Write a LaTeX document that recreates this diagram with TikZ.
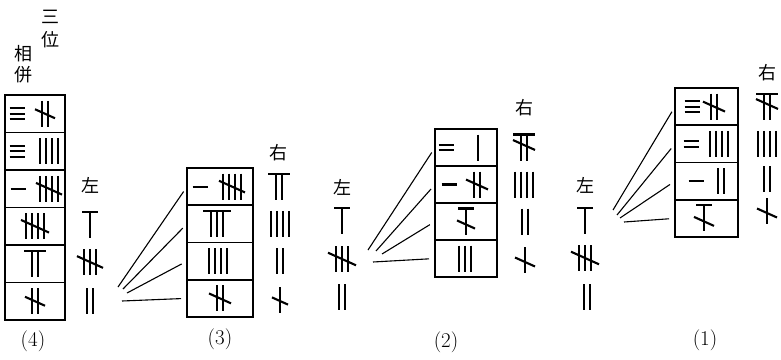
\documentclass[tikz,border=0pt]{standalone}
\usepackage{fontspec}
\newfontfamily\cjk{Noto Sans CJK JP}
\usetikzlibrary{positioning,calc}

\newcommand{\rv}[3]{\foreach \k in {1,...,#3}{\draw[rod] (#1+6*\k-3*#3-3,#2-13) -- ++(0,26);}}
\newcommand{\rh}[3]{\foreach \k in {1,...,#3}{\draw[rod] (#1-7.5,#2+5.5*\k-2.75*#3-2.75) -- ++(15,0);}}
\newcommand{\rt}[3]{\draw[rod] (#1-3*#3-5,#2-13) -- (#1+3*#3+5,#2-13);
  \foreach \k in {1,...,#3}{\draw[rod] (#1+6*\k-3*#3-3,#2-13) -- ++(0,26);}}
\newcommand{\rs}[3]{\draw[rod] (#1-#3,#2-0.45*#3) -- (#1+#3,#2+0.45*#3);}

\begin{document}
\begin{tikzpicture}[x=1pt, y=-1pt,
  rod/.style={line width=2.1pt},
  cell/.style={draw, line width=1.7pt, inner sep=0pt, outer sep=0pt},
  fan/.style={line width=1.1pt, shorten >=6pt},
  kanji/.style={font=\cjk\fontsize{18}{18}\selectfont, inner sep=0pt},
  tag/.style={font=\fontsize{21}{21}\selectfont, inner sep=0pt}]
\useasboundingbox (0,0) rectangle (781,359);

\node[kanji] (san) at (50,17) {三};
\node[kanji] (wei) at (50,40) {位};
\node[kanji] (xiang) at (23,54) {相};
\node[kanji] (bing) at (23,75) {併};

\node[cell, minimum width=60pt, minimum height=37.5pt] (d1) at (35,113.75) {};
\node[cell, minimum width=60pt, minimum height=37.5pt, below=0pt of d1] (d2) {};
\node[cell, minimum width=60pt, minimum height=37.5pt, below=0pt of d2] (d3) {};
\node[cell, minimum width=60pt, minimum height=37.5pt, below=0pt of d3] (d4) {};
\node[cell, minimum width=60pt, minimum height=37.5pt, below=0pt of d4] (d5) {};
\node[cell, minimum width=60pt, minimum height=37.5pt, below=0pt of d5] (d6) {};
\rh{17}{113.75}{3} \rv{45}{113.75}{2} \rs{45}{113.75}{10}
\rh{17}{151.25}{3} \rv{49}{151.25}{4}
\rh{18}{188.75}{1} \rv{49}{188.75}{4} \rs{49}{188.75}{13}
\rv{35}{226.25}{4} \rs{35}{226.25}{14}
\rt{35}{263.75}{2}
\rv{35}{301.25}{2} \rs{35}{301.25}{10}
\node[kanji] (zuo4) at (90,185) {左};
\rt{90}{225}{1}
\rv{90}{262}{3} \rs{90}{262}{13}
\rv{90}{301}{2}
\node[tag] (t4) at (33,341) {(4)};

\node[cell, minimum width=66pt, minimum height=37.25pt] (c1) at (220,186.6) {};
\node[cell, minimum width=66pt, minimum height=37.25pt, below=0pt of c1] (c2) {};
\node[cell, minimum width=66pt, minimum height=37.25pt, below=0pt of c2] (c3) {};
\node[cell, minimum width=66pt, minimum height=37.25pt, below=0pt of c3] (c4) {};
\rh{200}{186.6}{1} \rv{232}{186.6}{4} \rs{232}{186.6}{13}
\rt{217}{223.9}{3}
\rv{218}{261.1}{4}
\rv{220}{298.4}{2} \rs{220}{298.4}{11}
\node[kanji] (you3) at (278,153) {右};
\rt{279}{186.6}{2}
\rv{280}{223.9}{4}
\rv{280}{261.1}{2}
\rv{280}{300}{1} \rs{280}{301}{8}
\node[tag] (t3) at (220,339) {(3)};
\coordinate (p3a) at (118,287);
\coordinate (p3b) at (123,289);
\coordinate (p3c) at (127,293);
\coordinate (p3d) at (122,301);
\draw[fan] (p3a) -- (c1.west);
\draw[fan] (p3b) -- (c2.west);
\draw[fan] (p3c) -- (c3.west);
\draw[fan] (p3d) -- (c4.west);

\node[cell, minimum width=62pt, minimum height=37pt] (b1) at (466,147.5) {};
\node[cell, minimum width=62pt, minimum height=37pt, below=0pt of b1] (b2) {};
\node[cell, minimum width=62pt, minimum height=37pt, below=0pt of b2] (b3) {};
\node[cell, minimum width=62pt, minimum height=37pt, below=0pt of b3] (b4) {};
\rh{446}{147.5}{2} \rv{478}{147.5}{1}
\rh{449}{184.5}{1} \rv{477}{184.5}{2} \rs{477}{184.5}{11}
\rt{466}{221.5}{1} \rs{466}{224.5}{9}
\rv{465}{258.5}{3}
\node[kanji] (zuo2) at (342,187) {左};
\rt{342}{221}{1}
\rv{342}{259}{3} \rs{342}{259}{14}
\rv{342}{297}{2}
\node[kanji] (you2) at (524,108) {右};
\rt{524}{147.5}{2} \rs{524}{145}{11}
\rv{524}{184.5}{4}
\rv{525}{221.5}{2}
\rv{525}{260}{1} \rs{525}{262}{10}
\node[tag] (t2) at (446,342) {(2)};
\coordinate (p2a) at (368,250);
\coordinate (p2b) at (376,251);
\coordinate (p2c) at (382,254);
\coordinate (p2d) at (373,262);
\draw[fan] (p2a) -- (b1.west);
\draw[fan] (p2b) -- (b2.west);
\draw[fan] (p2c) -- (b3.west);
\draw[fan] (p2d) -- (b4.west);

\node[cell, minimum width=63pt, minimum height=37.25pt] (a1) at (706.5,106.6) {};
\node[cell, minimum width=63pt, minimum height=37.25pt, below=0pt of a1] (a2) {};
\node[cell, minimum width=63pt, minimum height=37.25pt, below=0pt of a2] (a3) {};
\node[cell, minimum width=63pt, minimum height=37.25pt, below=0pt of a3] (a4) {};
\rh{692}{106.6}{3} \rv{714}{106.6}{2} \rs{714}{106.6}{11}
\rh{691}{143.9}{2} \rv{719}{143.9}{4}
\rh{696}{181.1}{1} \rv{721}{181.1}{2}
\rt{704}{218.4}{1} \rs{704}{221.4}{10}
\node[kanji] (zuo1) at (585,185) {左};
\rt{585}{221}{1}
\rv{585}{258}{3} \rs{585}{258}{14}
\rv{587}{297}{2}
\node[kanji] (you1) at (767,73) {右};
\rt{767}{106.6}{2} \rs{767}{104}{11}
\rv{767}{143.9}{4}
\rv{767}{179}{2}
\rv{767}{211}{1} \rs{767}{213}{10}
\node[tag] (t1) at (705,340) {(1)};
\coordinate (p1a) at (613,210);
\coordinate (p1b) at (617,215);
\coordinate (p1c) at (620,218);
\coordinate (p1d) at (624,222);
\draw[fan] (p1a) -- (a1.west);
\draw[fan] (p1b) -- (a2.west);
\draw[fan] (p1c) -- (a3.west);
\draw[fan] (p1d) -- (a4.west);
\end{tikzpicture}
\end{document}
